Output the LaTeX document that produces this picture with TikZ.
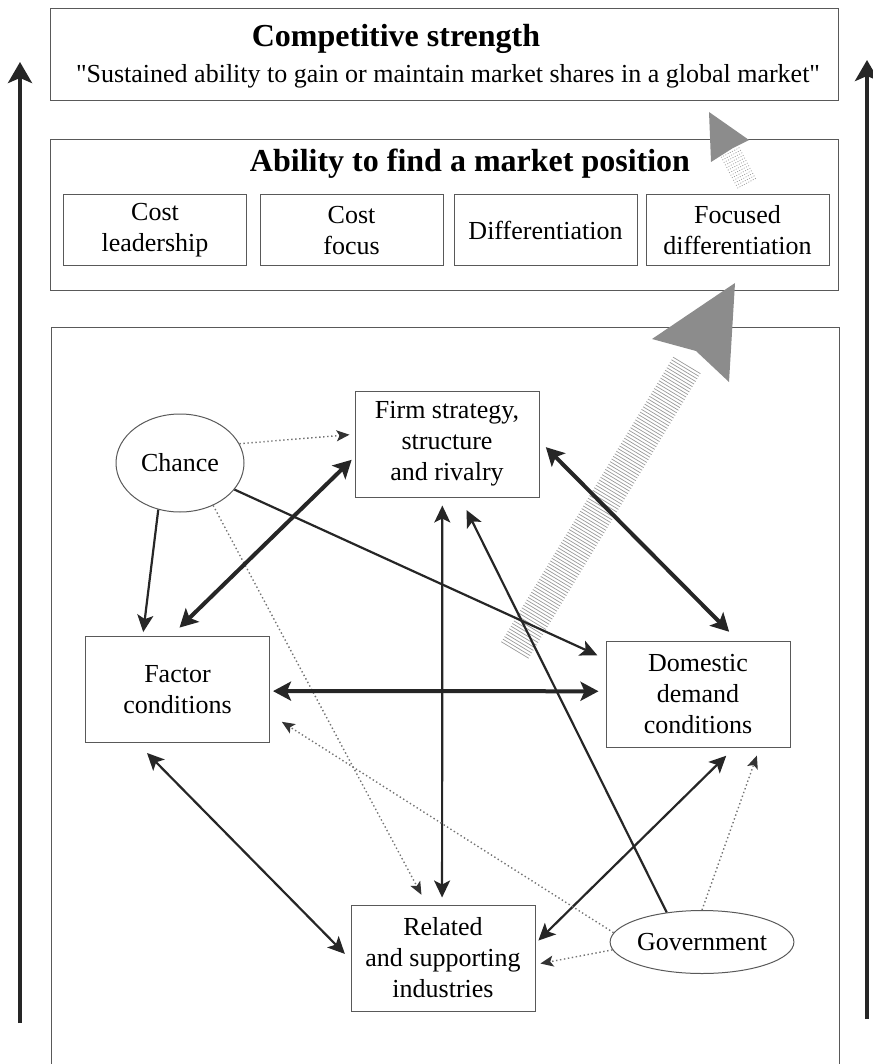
\documentclass[tikz,border=0pt]{standalone}
\usepackage{fontspec}
\setmainfont{Liberation Serif}
\newfontfamily\plainserif{Liberation Serif}
\usepackage{tikz}
\usetikzlibrary{arrows.meta,shapes.geometric,calc}

\begin{document}
\begin{tikzpicture}[x=1pt, y=-1pt, font=\fontsize{26}{31}\selectfont,
  frame/.style={draw=black!65, line width=1pt},
  title/.style={font=\fontsize{32}{38}\selectfont\bfseries, anchor=base},
  choice/.style={frame, align=center, minimum width=183pt, minimum height=71pt, inner sep=0pt},
  force/.style={frame, align=center, minimum width=184pt, minimum height=106pt, inner sep=0pt},
  oval/.style={frame, ellipse, inner sep=0pt},
  strong/.style={{Stealth[length=18pt,width=19pt,inset=4pt]}-{Stealth[length=18pt,width=19pt,inset=4pt]}, line width=4pt, black!85},
  twoway/.style={{Stealth[length=17pt,width=16pt,inset=4pt]}-{Stealth[length=17pt,width=16pt,inset=4pt]}, line width=2.2pt, black!85},
  oneway/.style={-{Stealth[length=17pt,width=16pt,inset=4pt]}, line width=2.2pt, black!85},
  hint/.style={black!55, line width=1.4pt, dash pattern=on 1.4pt off 2.6pt,
    -{Stealth[length=13pt,width=11pt,inset=3pt,color=black!80]}},
  rise/.style={line width=4.5pt, black!85, -{Stealth[length=21pt,width=24pt,inset=5pt]}},
  hatch/.style={black!40, line width=0.7pt}]
  \useasboundingbox (0,0) rectangle (872,1064);

  % outer frames
  \draw[frame] (50,9) rectangle (838,101);
  \draw[frame] (50,140) rectangle (838,290);
  \draw[frame] (51,1070) -- (51,327) -- (839,327) -- (839,1070);

  % side arrows
  \coordinate (lowleft) at (20,1023);
  \coordinate (topleft) at (20,62);
  \coordinate (lowright) at (867,1019);
  \coordinate (topright) at (867,60);
  \draw[rise] (lowleft) -- (topleft);
  \draw[rise] (lowright) -- (topright);

  % top levels
  \node[title] (strength) at (396,47) {Competitive strength};
  \node[anchor=base, font=\fontsize{26}{31}\selectfont\plainserif] (motto) at (448,83) {"Sustained ability to gain or maintain market shares in a global market"};
  \node[title] (position) at (470,172) {Ability to find a market position};
  \node[choice] (costlead) at (155,230.5) {Cost\\leadership};
  \node[choice] (costfocus) at (351.5,230.5) {Cost\\focus};
  \node[choice] (diff) at (545.5,230.5) {Differentiation};
  \node[choice] (focdiff) at (737.5,230.5) {Focused\\differentiation};

  % gray arrows
  \coordinate (tailA) at (515,650);
  \coordinate (headA) at (690,360);
  \foreach \t in {0,0.009,...,0.99}
    \draw[hatch] ($(tailA)!\t!(headA)!16pt!90:(headA)$) -- ($(tailA)!\t!(headA)!16pt!-90:(headA)$);
  \fill[black!45] (735,283) -- (652,339) -- (696,351) -- (729,382) -- cycle;
  \coordinate (tailB) at (747,183);
  \coordinate (headB) at (730,151);
  \foreach \t in {0,0.08,...,0.97}
    \draw[hatch, dash pattern=on 1pt off 1.5pt] ($(tailB)!\t!(headB)!11pt!90:(headB)$) -- ($(tailB)!\t!(headB)!11pt!-90:(headB)$);
  \fill[black!45] (709,112) -- (749,140) -- (733,148) -- (711,162) -- cycle;

  % diamond
  \node[force] (firm) at (447,444) {Firm strategy,\\structure\\and rivalry};
  \node[force] (factor) at (177.5,689.5) {Factor\\conditions};
  \node[force] (demand) at (698,694.5) {Domestic\\demand\\conditions};
  \node[force] (related) at (443,958) {Related\\and supporting\\industries};
  \node[oval, minimum width=128pt, minimum height=98pt] (chance) at (180,463) {Chance};
  \node[oval, minimum width=182pt, minimum height=63pt] (gov) at (702,942) {Government};

  \draw[hint, shorten >=5pt] (chance.18) -- (firm.174);
  \draw[oneway, shorten >=4pt] (chance.245) -- (factor.123);
  \draw[oneway, shorten >=9pt] (chance.334) -- (demand.159);
  \draw[hint, shorten >=11pt] (chance.308) -- (related.107);
  \draw[strong, shorten <=12pt, shorten >=4pt] (factor.97) -- (firm.188);
  \draw[strong, shorten <=9pt, shorten >=13pt] (firm.2) -- (demand.53);
  \draw[strong, shorten <=3pt, shorten >=7pt] (factor.-1) -- (demand.178);
  \draw[twoway, shorten <=8pt, shorten >=7pt] (firm.265) -- (related.91);
  \draw[twoway, shorten <=14pt, shorten >=8pt] (factor.233) -- (related.181);
  \draw[twoway, shorten <=4pt, shorten >=11pt] (related.9) -- (demand.304);
  \draw[oneway, shorten >=14pt] (gov.140) -- (firm.284);
  \draw[hint, shorten >=5pt] (gov.185) -- (related.356);
  \draw[hint, shorten >=14pt] (gov.174) -- (factor.345);
  \draw[hint, shorten >=8pt] (gov.90) -- (demand.319);
\end{tikzpicture}
\end{document}
